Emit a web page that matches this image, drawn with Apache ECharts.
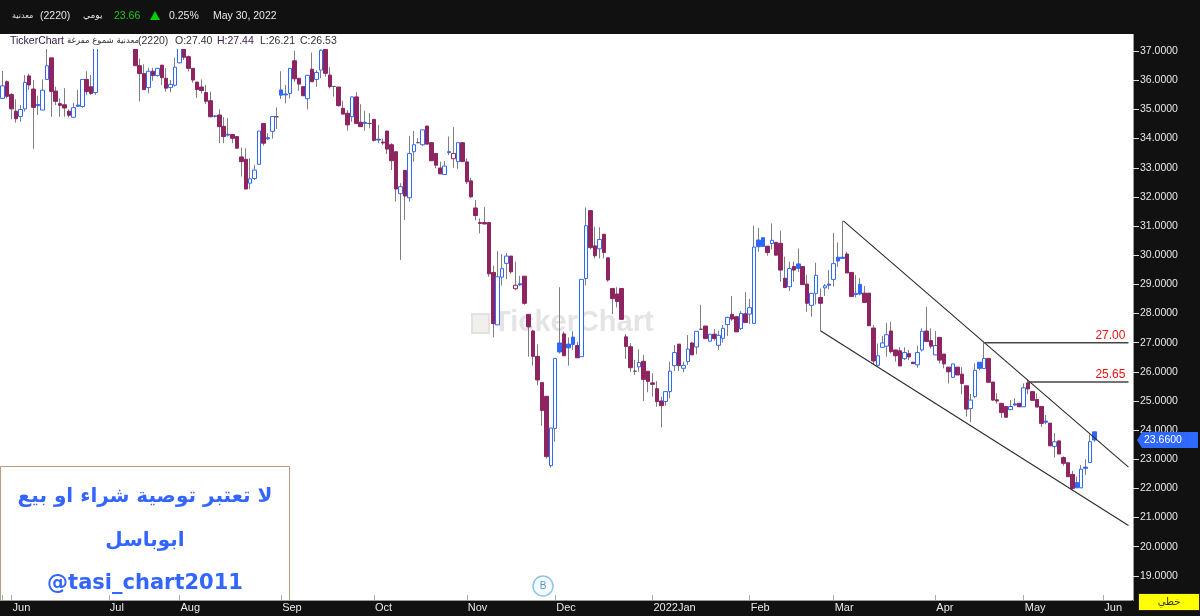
<!DOCTYPE html>
<html><head><meta charset="utf-8">
<style>html,body{margin:0;padding:0;background:#111}#c{width:1200px;height:616px}</style>
<script src="https://cdn.jsdelivr.net/npm/echarts@6/dist/echarts.min.js"></script>
</head><body><div id="c"></div>
<script>
const opens=[35.38,35.95,35.51,34.94,34.76,35.02,36.15,35.70,35.17,34.98,
36.03,36.77,35.63,35.20,35.16,34.94,34.73,35.15,35.10,36.03,
35.78,35.58,37.7,37.4,37.7,37.5,37.8,37.6,37.4,37.6,
37.3,36.5,36.23,35.75,36.31,36.16,36.52,36.07,35.75,35.83,
36.6,37.1,36.81,36.41,35.94,35.77,35.58,35.30,34.78,34.81,
34.42,34.15,34.14,34.07,33.37,33.29,32.47,32.63,33.12,34.52,
34.03,34.25,34.75,35.67,35.53,35.55,36.67,36.07,35.78,35.37,
36.38,36.03,36.35,37.06,36.18,35.79,35.77,35.04,34.87,34.75,
35.43,34.56,34.56,34.52,34.66,33.98,33.88,34.26,33.79,33.55,
32.11,32.91,31.97,33.55,33.86,33.79,34.43,33.86,33.49,32.99,
32.77,33.55,33.31,33.21,33.86,33.2,32.55,31.62,31.12,31.12,
31.12,29.41,27.61,29.25,29.72,29.97,28.85,29.02,29.28,27.97,
27.40,26.53,25.63,25.16,22.78,24.06,26.99,27.3,26.95,27.19,
26.9,26.52,29.2,31.53,30.32,30.22,30.72,29.91,28.86,28.67,
28.86,27.2,26.86,26.02,26.17,26.36,26.02,25.62,25.42,25.0,
24.98,25.32,26.21,26.95,26.12,26.35,26.99,26.85,27.46,27.57,
27.05,27.29,26.91,27.15,27.62,27.97,27.89,27.48,27.99,27.98,
27.66,30.52,30.6,30.31,30.4,30.44,30.41,29.21,28.92,29.61,
29.7,29.61,29.01,28.28,28.69,28.55,28.88,29.01,29.17,29.93,
29.93,30.04,29.41,28.69,29.0,28.7,28.7,27.5,26.22,26.84,
26.88,27.4,26.75,26.72,26.45,26.62,26.33,26.24,26.75,27.4,
27.07,26.58,27.18,26.61,26.16,25.81,26.16,25.92,25.52,24.74,
25.15,26.33,26.11,26.46,25.65,25.04,24.92,24.81,24.7,24.9,
24.92,24.8,25.62,25.32,25.05,24.81,24.31,24.24,23.44,23.63,
23.06,22.88,22.48,22.2,22.02,22.73,22.89,23.94];
const closes=[35.81,35.45,35.02,34.68,35.0,35.93,35.84,35.07,35.13,35.66,
36.5,35.62,35.28,35.14,35.05,34.80,35.06,35.11,36.03,35.61,
35.55,37.5,37.4,37.7,37.5,37.8,37.6,37.4,37.6,37.35,
36.5,36.23,35.68,36.31,36.16,36.41,36.09,35.73,35.86,36.45,
37.2,36.79,36.41,36.01,35.68,35.65,35.28,34.75,34.76,34.41,
34.07,34.12,34.01,33.67,33.21,32.27,32.62,32.92,34.26,33.84,
33.99,34.76,34.75,35.49,35.50,36.41,36.05,35.87,35.47,36.17,
35.95,36.27,37.03,36.24,35.78,35.79,35.13,34.84,34.47,35.43,
34.52,34.41,34.52,34.52,33.94,33.95,33.85,33.64,33.24,32.27,
32.35,32.03,33.49,33.79,33.86,34.3,33.81,33.24,33.09,32.79,
33.06,33.52,33.49,33.86,33.21,32.52,32.0,31.36,31.09,31.07,
29.36,27.65,29.26,29.54,29.97,29.43,28.97,28.98,28.35,27.54,
26.53,25.72,24.67,23.09,24.07,26.46,26.68,26.55,26.82,26.94,
26.48,29.17,31.01,30.26,29.98,30.54,30.09,29.15,28.51,28.41,
27.8,26.87,26.14,26.02,26.32,25.74,25.67,25.57,24.98,24.84,
25.32,26.02,26.66,26.21,26.22,26.78,26.58,27.39,27.46,27.14,
27.29,27.14,27.25,27.49,27.87,27.81,27.37,28.0,27.69,28.2,
30.28,30.29,30.30,30.09,30.51,30.0,29.49,28.89,29.54,29.49,
29.55,28.99,28.35,28.69,29.31,28.35,28.95,28.97,29.71,29.8,
29.89,29.39,28.58,28.65,28.67,28.38,27.58,26.37,26.55,26.99,
27.27,26.69,26.55,26.2,26.66,26.51,26.28,26.66,27.39,27.04,
26.88,26.90,26.4,26.27,26.0,26.27,25.89,25.6,24.72,25.03,
26.05,26.12,26.46,25.64,25.03,25.0,24.6,24.44,24.81,24.86,
24.8,25.45,25.41,25.02,24.79,24.23,24.27,23.46,23.6,23.18,
22.86,22.4,22.0,22.02,22.66,22.69,23.6,23.66];
const lows=[35.36,35.38,34.66,34.55,34.58,34.93,35.67,33.65,34.81,34.98,
36.01,34.75,35.15,34.75,34.75,34.73,34.73,35.1,35.06,35.49,
35.5,35.5,37.2,37.3,37.3,37.4,37.4,37.25,37.25,37.2,
36.5,35.27,35.68,35.55,35.98,36.13,35.84,35.61,35.59,35.78,
36.58,36.7,36.3,35.92,35.4,35.55,35.19,34.73,34.72,33.84,
33.84,34.07,33.84,33.67,32.7,32.27,32.27,32.58,33.1,33.76,
33.95,34.0,34.33,35.36,35.21,35.38,35.95,35.64,35.47,35.0,
35.95,35.78,36.07,36.12,35.72,35.44,35.1,34.84,34.27,34.58,
34.52,34.41,34.27,34.35,33.9,33.84,33.78,33.47,32.92,31.84,
29.84,31.21,31.84,33.21,33.84,33.75,33.81,33.24,32.98,32.79,
32.77,33.44,33.0,32.96,33.21,32.44,31.97,31.2,30.75,31.07,
29.26,27.18,27.61,28.96,29.18,29.36,28.8,28.95,28.3,26.52,
26.21,25.54,24.15,23.03,22.71,23.6,26.63,26.55,26.21,26.75,
26.48,26.52,28.96,30.2,29.89,29.89,29.89,29.09,27.98,28.21,
27.78,26.44,26.0,25.89,26.0,25.0,25.3,25.15,24.8,24.09,
24.84,25.09,26.03,26.03,25.98,26.23,26.58,26.6,27.43,27.12,
27.05,27.07,26.75,27.0,27.23,27.75,27.37,27.43,27.69,27.64,
27.66,30.12,30.29,29.98,30.2,30.0,29.09,28.89,28.77,29.09,
29.43,28.99,28.06,27.89,28.31,27.38,28.6,28.83,28.92,29.6,
29.89,29.39,28.58,28.55,28.63,28.38,27.58,26.23,26.22,26.84,
26.52,26.63,26.35,26.2,26.4,26.4,26.28,26.14,26.7,27.04,
26.8,26.58,26.29,26.12,25.6,25.81,25.89,25.23,24.46,24.27,
25.09,26.06,26.11,25.64,25.0,24.91,24.42,24.44,24.69,24.82,
24.8,24.8,25.23,25.02,24.79,24.11,24.2,23.46,23.06,23.18,
22.78,22.4,21.96,22.02,22.02,22.46,22.89,23.6];
const highs=[36.32,36.0,35.56,35.35,35.15,36.18,36.22,36.01,35.47,36.03,
37.08,36.77,35.78,35.38,35.73,35.0,35.23,35.67,36.03,36.31,
36.18,37.7,37.9,37.9,37.8,37.95,37.9,37.8,37.8,37.7,
37.45,36.75,36.55,36.43,36.43,36.43,36.52,36.42,36.01,36.78,
37.4,37.2,36.85,36.41,35.94,36.03,35.84,35.61,34.8,35.0,
34.73,34.7,34.14,34.07,33.69,33.67,33.32,33.1,34.26,34.52,
34.18,34.76,35.07,36.31,35.84,36.41,37.02,36.07,35.78,36.17,
36.95,36.35,37.06,37.06,36.45,35.8,35.77,35.3,34.98,35.43,
35.59,35.18,34.95,34.87,34.66,34.47,34.0,34.26,33.84,33.55,
32.47,32.91,34.09,34.26,34.01,34.3,34.43,33.86,33.49,33.21,
33.23,34.07,34.39,33.86,33.86,33.32,32.66,31.89,31.26,31.65,
31.12,29.64,30.14,30.04,30.07,29.97,29.78,29.29,29.28,27.97,
27.44,26.94,25.63,25.16,24.07,26.46,28.9,27.38,27.18,27.39,
27.03,29.17,31.64,31.53,30.98,30.96,30.72,29.91,28.86,28.9,
28.86,27.29,26.98,26.41,26.77,26.58,26.02,25.95,25.68,25.15,
25.32,26.35,26.92,26.95,26.35,27.26,27.03,27.39,28.3,27.57,
27.29,27.46,27.41,27.61,27.89,28.6,27.89,28.08,28.73,28.5,
31.01,30.94,30.6,30.31,31.09,30.44,30.84,29.95,29.78,29.78,
30.23,29.61,29.32,28.69,29.74,28.86,29.01,29.49,30.77,30.44,
31.18,30.12,29.41,29.32,29.21,28.94,28.7,27.6,26.97,27.23,
27.68,27.72,26.75,26.84,26.84,26.75,26.33,26.9,27.49,28.23,
27.49,27.4,27.18,26.61,26.16,26.27,26.16,26.16,25.52,25.24,
26.29,26.33,27.0,26.46,25.65,25.26,24.92,24.81,25.03,25.09,
24.92,25.6,25.73,25.32,25.26,24.81,24.52,24.24,23.9,23.63,
23.1,22.88,22.6,22.4,22.8,23.0,23.85,23.94];

const slotCount=256;
const monthSlots=[2,24,40,63,84,105,125,147,169,188,211,231,249];
const monthLabels=['Jun','Jul','Aug','Sep','Oct','Nov','Dec','2022Jan','Feb','Mar','Apr','May','Jun'];
const categories=Array.from({length:slotCount},(_,i)=>{const k=monthSlots.indexOf(i);return k<0?'':monthLabels[k]});
const priceTicks=[19,20,21,22,23,24,25,26,27,28,29,30,31,32,33,34,35,36,37];

const upperChannel=[[190.7,31.18],[255.2,22.73]];
const lowerChannel=[[185.6,27.40],[255.2,20.73]];
const levelStarts=[222.6,232.5];
const levelPrices=[27.00,25.65];
const levelEnd=255.2;

const BLUE='#2f68ff',MAROON='#8e2460',WICK='#7f7f7f';
const wickData=opens.map((o,i)=>[o,closes[i],lows[i],highs[i]]);
const bodyData=opens.map((o,i)=>{
  const c=closes[i],prev=i?closes[i-1]:o,hollow=c>o,line=o===c?'#555':(c>=prev?BLUE:MAROON);
  const fill=hollow?'#fff':line;
  return {value:[o,c,Math.min(o,c),Math.max(o,c)],
    itemStyle:{color:fill,color0:fill,borderColor:line,borderColor0:line,borderColorDoji:line,borderWidth:1}};
});
const trend=(id,pts)=>({type:'line',xAxisIndex:1,yAxisIndex:0,data:pts,symbol:'none',silent:true,animation:false,z:4,
  lineStyle:{color:'#2a2a2a',width:1.1}});
const levelSeries=levelPrices.map((p,k)=>({type:'line',xAxisIndex:1,yAxisIndex:0,symbol:'circle',symbolSize:0,showSymbol:true,silent:true,animation:false,z:4,
  lineStyle:{color:'#444',width:1.5},
  data:[[levelStarts[k],p],{value:[levelEnd,p],label:{show:true,position:'top',align:'right',distance:2,offset:[-3,1],
    formatter:p.toFixed(2),color:'#f01010',fontFamily:'Liberation Sans',fontSize:12}}]}));

const chart=echarts.init(document.getElementById('c'),null,{renderer:'canvas'});
const T=(text,x,y,fill,font,extra)=>({type:'text',z:110,silent:true,style:Object.assign({text,x,y,fill,font,textVerticalAlign:'middle'},extra||{})});
const R=(x,y,width,height,fill,z,stroke)=>({type:'rect',z,silent:true,shape:{x,y,width,height},style:{fill,stroke:stroke||null,lineWidth:stroke?1:0}});
const UI='Liberation Sans';
chart.setOption({
  animation:false,backgroundColor:'#111111',
  grid:{left:0.5,width:1131.5,top:22,height:583,containLabel:false},
  xAxis:[{type:'category',data:categories,boundaryGap:true,offset:-5,z:3,
      axisLine:{show:true,onZero:false,lineStyle:{color:'#9a9a9a',width:1}},
      axisTick:{show:true,inside:true,length:5,alignWithLabel:true,lineStyle:{color:'#aaa'},interval:(i,v)=>i===0||v!==''},
      axisLabel:{show:true,interval:(i,v)=>v!=='',align:'left',margin:2,padding:[0,0,0,1],color:'#e8e8e8',fontFamily:UI,fontSize:11},
      splitLine:{show:false}},
    {type:'value',min:0,max:slotCount,show:false,position:'bottom'}],
  yAxis:[{type:'value',min:18,max:38,interval:1,position:'right',offset:1,z:3,
      axisLine:{show:true,onZero:false,lineStyle:{color:'#9a9a9a',width:1}},
      axisTick:{show:true,length:6,lineStyle:{color:'#ddd'}},
      axisLabel:{margin:7,color:'#e8e8e8',fontFamily:UI,fontSize:10.5,
        formatter:v=>priceTicks.includes(v)?v.toFixed(4):''},
      splitLine:{show:false}}],
  series:[
    {type:'candlestick',name:'wick',data:wickData,barWidth:1,z:2,silent:true,animation:false,large:false,
      itemStyle:{color:WICK,color0:WICK,borderColor:WICK,borderColor0:WICK,borderColorDoji:WICK,borderWidth:1}},
    {type:'candlestick',name:'body',data:bodyData,barWidth:4,z:3,silent:true,animation:false,large:false},
    trend('u',upperChannel),trend('l',lowerChannel),...levelSeries
  ],
  graphic:{elements:[
    R(0,35,1133,565,'#ffffff',0),
    {type:'rect',z:0,silent:true,shape:{x:472,y:314,width:17,height:19},style:{fill:'#f1f0ea',stroke:'#e2e2e2',lineWidth:2}},
    {type:'text',z:0,silent:true,style:{text:'TickerChart',x:493,y:323,fill:'#e4e4e4',font:'bold 29px "Liberation Sans"',textVerticalAlign:'middle'}},
    {type:'rect',z:1,silent:true,shape:{x:0.5,y:466.5,width:289,height:134},style:{fill:'#fff',stroke:'#b89c82',lineWidth:1}},
    {type:'text',z:1,silent:true,style:{text:'لا تعتبر توصية شراء او بيع',x:145,y:497,fill:'#3366ff',font:'bold 20px "DejaVu Sans"',textAlign:'center',textVerticalAlign:'middle'}},
    {type:'text',z:1,silent:true,style:{text:'ابوباسل',x:145,y:541,fill:'#3366ff',font:'bold 20px "DejaVu Sans"',textAlign:'center',textVerticalAlign:'middle'}},
    {type:'text',z:1,silent:true,style:{text:'@tasi_chart2011',x:145,y:584,fill:'#3366ff',font:'bold 21px "DejaVu Sans"',textAlign:'center',textVerticalAlign:'middle'}},
    {type:'circle',z:1,silent:true,shape:{cx:543,cy:586,r:10},style:{fill:'#f7fbff',stroke:'#8cc4e8',lineWidth:1.5}},
    {type:'text',z:1,silent:true,style:{text:'B',x:543,y:586,fill:'#4f9ad0',font:'10px "Liberation Sans"',textAlign:'center',textVerticalAlign:'middle'}},
    R(0,0,1200,34,'#111111',100),
    R(0,34,1133,15,'#ffffff',100),
    R(1130,601,8,5,'#111111',100),
    T('معدنية',12,16,'#e6e6e6','8px "DejaVu Sans"'),
    T('(2220)',40,16,'#e6e6e6','10.5px '+UI),
    T('يومي',83,16,'#e6e6e6','9px "DejaVu Sans"'),
    T('23.66',114,16,'#22c51c','10.5px '+UI),
    {type:'polygon',z:110,silent:true,shape:{points:[[155,11],[160,20],[150,20]]},style:{fill:'#00d000'}},
    T('0.25%',169,16,'#e6e6e6','10.5px '+UI),
    T('May 30, 2022',213,16,'#e6e6e6','10.5px '+UI),
    T('TickerChart',10,41,'#2d1a4a','10.5px '+UI),
    T('معدنية شموع مفرغة',67,41,'#333','8.5px "DejaVu Sans"'),
    T('(2220)',138,41,'#333','10.5px '+UI),
    T('O:27.40',175,41,'#333','10.5px '+UI),
    T('H:27.44',217,41,'#3a2050','10.5px '+UI),
    T('L:26.21',260,41,'#333','10.5px '+UI),
    T('C:26.53',300,41,'#333','10.5px '+UI),
    {type:'rect',z:110,silent:true,shape:{x:1138.5,y:593.5,width:61,height:17},style:{fill:'#ffff00',stroke:'#222',lineWidth:1}},
    T('خطي',1169,602,'#333','10px "DejaVu Sans"',{textAlign:'center'})
  ]}
});
const last=closes[closes.length-1];
const py=chart.convertToPixel({yAxisIndex:0},last);
chart.setOption({graphic:{elements:[
  {type:'polygon',id:'tag',z:120,silent:true,shape:{points:[[1137,py],[1142,py-8],[1198,py-8],[1198,py+8],[1142,py+8]]},style:{fill:BLUE}},
  {type:'text',id:'tagT',z:121,silent:true,style:{text:last.toFixed(4),x:1144,y:py,fill:'#fff',font:'10.5px '+UI,textVerticalAlign:'middle'}}
]}});
</script></body></html>
